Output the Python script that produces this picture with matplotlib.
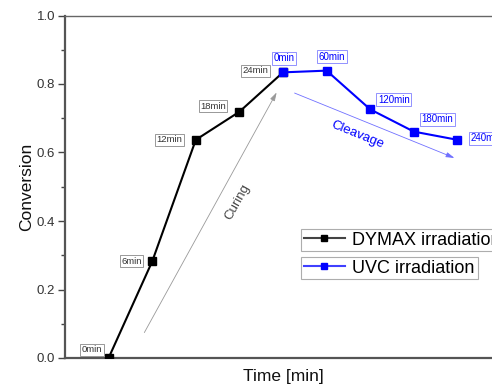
import numpy as np
import matplotlib.pyplot as plt

plt.rcParams['font.family'] = ['Liberation Sans', 'DejaVu Sans']

# curing (DYMAX) and cleavage (UVC) series
dymax_time = [0, 6, 12, 18, 24]
dymax_conv = [0.0, 0.282, 0.637, 0.719, 0.834]
uvc_time = [0, 60, 120, 180, 240]
uvc_conv = [0.834, 0.839, 0.726, 0.661, 0.637]

dymax_labels = [f"{t}min" for t in dymax_time]
uvc_labels = [f"{t}min" for t in uvc_time]

# both series are drawn on one step axis (6 min steps, then 60 min steps)
dymax_x = np.array(dymax_time) / 6
uvc_x = dymax_x[-1] + np.array(uvc_time) / 60

fig = plt.figure(figsize=(4.92, 3.89), dpi=100)
ax = fig.add_axes([65 / 492, 31 / 389, 436 / 492, 342.5 / 389])

blue = '#0000ff'
ax.plot(dymax_x, dymax_conv, color='black', lw=1.5, marker='s', ms=6,
        zorder=3)
ax.plot(uvc_x, uvc_conv, color=blue, lw=1.5, marker='s', ms=6, zorder=3)

# point labels (offsets in points)
dymax_off = [(-12, 6), (-15, 0), (-19, 0), (-19, 4), (-20, 1)]
uvc_off = [(1, 10), (4, 10), (17, 7), (17, 9), (21, 1)]
box = dict(boxstyle='square,pad=0.15', fc='white', lw=0.6)
for x, y, s, o in zip(dymax_x, dymax_conv, dymax_labels, dymax_off):
    ax.annotate(s, (x, y), xytext=o, textcoords='offset points', ha='center',
                va='center', fontsize=6.8, color='#333333',
                bbox=dict(box, ec='#888888'))
for x, y, s, o in zip(uvc_x, uvc_conv, uvc_labels, uvc_off):
    ax.annotate(s, (x, y), xytext=o, textcoords='offset points', ha='center',
                va='center', fontsize=7, color=blue,
                bbox=dict(box, ec='#8080ff'), annotation_clip=False)

# curing / cleavage arrows
ax.annotate('', xy=(278, 389 - 90), xytext=(143, 389 - 335),
            xycoords='figure pixels', textcoords='figure pixels',
            arrowprops=dict(arrowstyle='-|>,head_length=0.5,head_width=0.15',
                            color='#999999', lw=0.6))
ax.text(238, 389 - 202, 'Curing', transform=None, rotation=61,
        ha='center', va='center', fontsize=9.5, color='#444444')
ax.annotate('', xy=(457, 389 - 159), xytext=(292, 389 - 92),
            xycoords='figure pixels', textcoords='figure pixels',
            arrowprops=dict(arrowstyle='-|>,head_length=0.5,head_width=0.15',
                            color='#7070ff', lw=0.6))
ax.text(357, 389 - 135, 'Cleavage', transform=None, rotation=-22,
        ha='center', va='center', fontsize=9.5, color=blue)

ax.set_xlim(-1, 9)
ax.set_ylim(0, 1.0)
ax.set_yticks(np.arange(0, 1.01, 0.2))
ax.set_yticks(np.arange(0.1, 1.0, 0.2), minor=True)
ax.yaxis.set_major_formatter(plt.FormatStrFormatter('%.1f'))
ax.set_xticks([])
ax.tick_params(axis='y', which='major', direction='out', length=5, width=1,
               color='#444444', labelsize=9.5, labelcolor='#333333', pad=2)
ax.tick_params(axis='y', which='minor', direction='out', length=3, width=1,
               color='#444444')
for side in ['left', 'bottom']:
    ax.spines[side].set_linewidth(1.6)
    ax.spines[side].set_color('#555555')
ax.spines['top'].set_linewidth(1.0)
ax.spines['top'].set_color('#666666')
ax.spines['right'].set_visible(False)

ax.set_xlabel('Time [min]', fontsize=12.5, color='#111111', labelpad=8)
ax.set_ylabel('Conversion', fontsize=12.5, color='#111111', labelpad=2)

# two separately framed legend entries
l1, = ax.plot([], [], color='#444444', lw=1.5, marker='s', ms=5,
              mfc='black', mec='black')
l2, = ax.plot([], [], color='#4040ff', lw=1.5, marker='s', ms=5,
              mfc=blue, mec=blue)
leg_kw = dict(loc='upper left', fontsize=13, frameon=True, fancybox=False,
              borderpad=0.15, borderaxespad=0, handlelength=2.3,
              handletextpad=0.4, bbox_transform=fig.transFigure)
leg1 = ax.legend([l1], ['DYMAX irradiation'],
                 bbox_to_anchor=(301 / 492, 1 - 229 / 389), **leg_kw)
leg1.get_frame().set_edgecolor('#999999')
leg1.get_frame().set_linewidth(0.8)
ax.add_artist(leg1)
leg2 = ax.legend([l2], ['UVC irradiation'],
                 bbox_to_anchor=(301 / 492, 1 - 257 / 389), **leg_kw)
leg2.get_frame().set_edgecolor('#999999')
leg2.get_frame().set_linewidth(0.8)

fig.savefig('out.png', dpi=100)
